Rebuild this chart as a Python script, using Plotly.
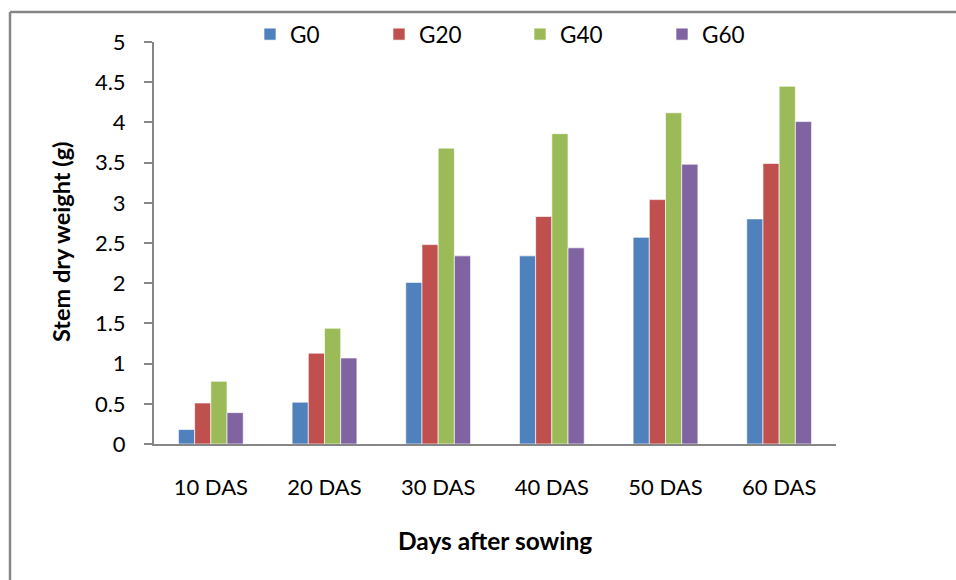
import plotly.graph_objects as go

# Stem dry weight (g) by days after sowing for four treatments
days = ["10 DAS", "20 DAS", "30 DAS", "40 DAS", "50 DAS", "60 DAS"]
g0 = [0.18, 0.52, 2.01, 2.34, 2.57, 2.80]
g20 = [0.51, 1.13, 2.48, 2.83, 3.04, 3.49]
g40 = [0.78, 1.44, 3.68, 3.86, 4.12, 4.45]
g60 = [0.39, 1.07, 2.34, 2.44, 3.48, 4.01]
y_ticks = [0, 0.5, 1, 1.5, 2, 2.5, 3, 3.5, 4, 4.5, 5]

W, H = 956, 580
L, R, T, B = 154, 120, 42, 136
PW, PH = W - L - R, H - T - B

FONT = "Lato, 'Open Sans', sans-serif"
GREY = "#868686"


def px_x(px):
    return (px - L) / PW


def px_y(py):
    return (H - B - py) / PH


series = [
    ("G0", g0, "#4F81BD", 250),
    ("G20", g20, "#C0504D", 379),
    ("G40", g40, "#9BBB59", 520),
    ("G60", g60, "#8064A2", 662),
]

fig = go.Figure()
legend_layouts = {}
for i, (name, vals, color, lx) in enumerate(series):
    key = "legend" if i == 0 else f"legend{i + 1}"
    fig.add_trace(go.Bar(
        x=days, y=vals, name=name, legend=key, showlegend=True,
        marker=dict(color=color, line=dict(color="rgba(255,255,255,0.8)", width=0.8)),
    ))
    legend_layouts[key] = dict(
        visible=True,
        xref="paper", yref="paper",
        x=px_x(lx), y=px_y(13), xanchor="left", yanchor="top",
        bgcolor="rgba(0,0,0,0)", borderwidth=0,
        font=dict(family=FONT, size=22.5, color="#000000"),
    )

fig.update_layout(
    width=W, height=H,
    showlegend=True,
    margin=dict(l=L, r=R, t=T, b=B, autoexpand=False),
    paper_bgcolor="white", plot_bgcolor="white",
    barmode="group", bargap=0.43, bargroupgap=0,
    font=dict(family=FONT, size=22, color="#000000"),
    xaxis=dict(
        type="category", range=[-0.5, 5.5],
        showline=True, linecolor=GREY, linewidth=2,
        ticks="", showgrid=False, zeroline=False,
        ticklabelstandoff=23, automargin=False,
        tickfont=dict(family=FONT, size=22, color="#000000"),
    ),
    yaxis=dict(
        range=[0, 5], tickvals=y_ticks,
        ticktext=[f"{v:g}" for v in y_ticks],
        showline=True, linecolor=GREY, linewidth=2,
        ticks="outside", ticklen=8, tickwidth=1.5, tickcolor=GREY,
        showgrid=False, zeroline=False,
        ticklabelstandoff=14, automargin=False,
        tickfont=dict(family=FONT, size=22, color="#000000"),
    ),
    shapes=[
        # chart-area frame (left and top edges)
        dict(type="line", xref="paper", yref="paper",
             x0=px_x(10), x1=px_x(10), y0=px_y(12), y1=px_y(600),
             line=dict(color=GREY, width=2.5)),
        dict(type="line", xref="paper", yref="paper",
             x0=px_x(10), x1=px_x(970), y0=px_y(12), y1=px_y(12),
             line=dict(color=GREY, width=2.5)),
    ],
    annotations=[
        dict(text="<b>Stem dry weight (g)</b>", textangle=-90,
             xref="paper", yref="paper", x=px_x(61), y=px_y(242),
             xanchor="center", yanchor="middle", showarrow=False,
             font=dict(family=FONT, size=23.5, color="#000000")),
        dict(text="<b>Days after sowing</b>",
             xref="paper", yref="paper", x=px_x(495), y=px_y(540),
             xanchor="center", yanchor="middle", showarrow=False,
             font=dict(family=FONT, size=24.5, color="#000000")),
    ],
    **legend_layouts,
)

fig.write_html("out.html")
